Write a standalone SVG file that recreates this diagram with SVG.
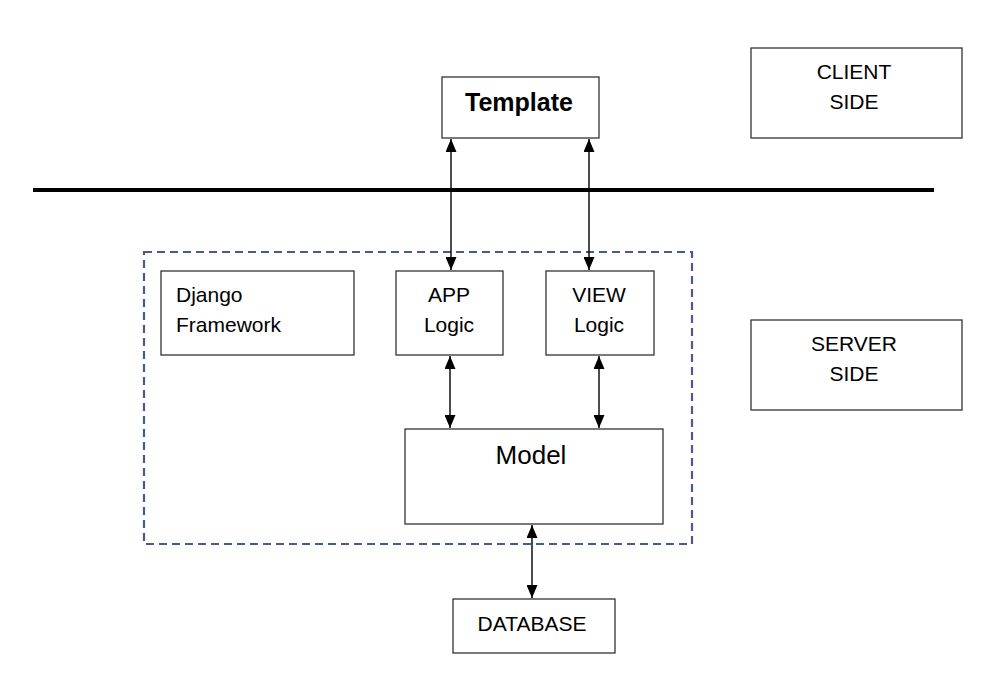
<svg xmlns="http://www.w3.org/2000/svg" width="1003" height="681" viewBox="0 0 1003 681">
<style>
.box{fill:#fff;stroke:#333;stroke-width:1.3}
.t{font-family:"Liberation Sans",Arial,sans-serif;font-size:21px;fill:#000}
.c{text-anchor:middle}
.s20{font-size:21px}
.conn line{stroke:#000;stroke-width:1.4;marker-start:url(#ah);marker-end:url(#ah)}
</style>
<defs>
<marker id="ah" viewBox="0 0 13 11" refX="13" refY="5.5" markerWidth="13" markerHeight="11" markerUnits="userSpaceOnUse" orient="auto-start-reverse">
<path d="M0,0 L13,5.5 L0,11 Z" fill="#000"/>
</marker>
</defs>
<rect width="1003" height="681" fill="#fff"/>
<line x1="33" y1="190" x2="934" y2="190" stroke="#000" stroke-width="4"/>
<rect id="framework-boundary" x="144" y="252" width="548" height="292" fill="none" stroke="#4a5a8e" stroke-width="2.2" stroke-dasharray="8,5"/>
<g id="template"><rect class="box" x="442" y="77" width="157" height="61"/><text class="t c" x="519" y="111" style="font-size:25px;font-weight:bold">Template</text></g>
<g id="client-side"><rect class="box" x="751" y="48" width="211" height="90"/><text class="t c s20" x="854" y="79">CLIENT</text><text class="t c s20" x="854" y="109">SIDE</text></g>
<g id="server-side"><rect class="box" x="751" y="320" width="211" height="90"/><text class="t c s20" x="854" y="351">SERVER</text><text class="t c s20" x="854" y="381">SIDE</text></g>
<g id="django"><rect class="box" x="161" y="271" width="193" height="84"/><text class="t" x="176" y="302">Django</text><text class="t" x="176" y="332">Framework</text></g>
<g id="app-logic"><rect class="box" x="396" y="271" width="107" height="84"/><text class="t c" x="449" y="302">APP</text><text class="t c" x="449" y="332">Logic</text></g>
<g id="view-logic"><rect class="box" x="546" y="271" width="108" height="84"/><text class="t c" x="599" y="302">VIEW</text><text class="t c" x="599" y="332">Logic</text></g>
<g id="model"><rect class="box" x="405" y="429" width="258" height="95"/><text class="t c" x="531" y="464" style="font-size:26px">Model</text></g>
<g id="database"><rect class="box" x="453" y="599" width="162" height="54"/><text class="t c s20" x="532" y="631">DATABASE</text></g>
<g id="connectors" class="conn">
<line x1="451" y1="139" x2="451" y2="270"/>
<line x1="589" y1="139" x2="589" y2="270"/>
<line x1="450" y1="356" x2="450" y2="428"/>
<line x1="599" y1="356" x2="599" y2="428"/>
<line x1="532" y1="525" x2="532" y2="598"/>
</g>
</svg>
